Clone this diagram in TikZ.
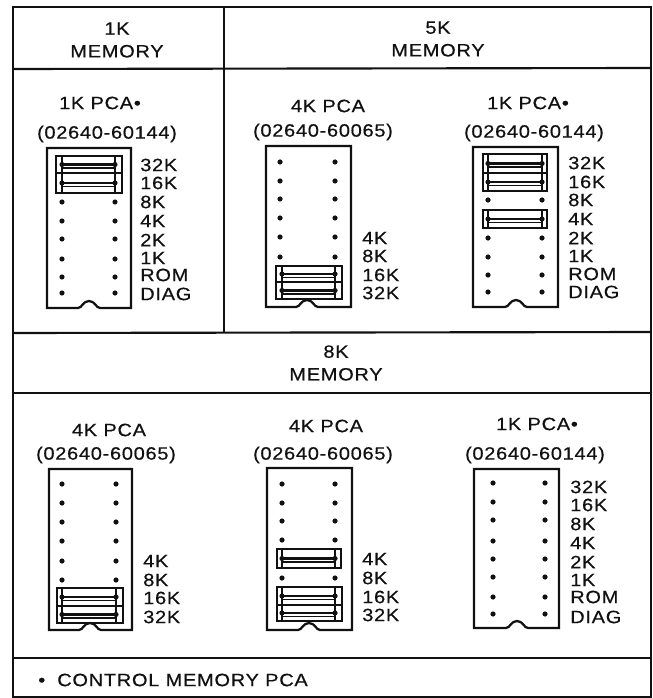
\documentclass[tikz,border=0pt]{standalone}
\usepackage{fontspec}
\usepackage{xcolor}
\setmainfont[FakeStretch=1.12,LetterSpace=4,FakeBold=0.5]{Liberation Sans}
\definecolor{ink}{HTML}{111111}
\usetikzlibrary{positioning}

% board outline, args: left, right, top, bottom, notch centre
\newcommand{\pcaboard}[5]{%
  \draw[board] (#1,#3) -- (#2,#3) -- (#2,#4) -- ({#5+11},#4)
    .. controls ({#5+7},#4) and ({#5+6},{#4-7}) .. (#5,{#4-7})
    .. controls ({#5-6},{#4-7}) and ({#5-7},#4) .. ({#5-11},#4) -- (#1,#4) -- cycle;}
% jumper cell, args: left, right, top, bottom, dot left, dot right
\newcommand{\jumpcell}[6]{%
  \draw[jumpbox] (#1,#3) rectangle (#2,#4);
  \draw[jumpbox] (#5,#3) -- (#5,#4) (#6,#3) -- (#6,#4);
  \draw[jumpbar] (#5,{(#3+#4)/2}) -- (#6,{(#3+#4)/2});
  \fill[pin] (#5,{(#3+#4)/2}) circle (2.6) (#6,{(#3+#4)/2}) circle (2.6);
  \draw[jumpbox] (#5,{(#3+#4)/2+3.5}) -- (#6,{(#3+#4)/2+3.5});}

\begin{document}
\begin{tikzpicture}[
  x=0.75pt, y=-0.75pt,
  frame/.style={draw=ink, line width=1.6pt},
  board/.style={draw=ink, line width=1.7pt},
  jumpbox/.style={draw=ink, line width=0.8pt},
  jumpbar/.style={draw=ink, line width=1.8pt},
  pin/.style={fill=ink, draw=none},
  head/.style={font=\fontsize{13.4}{14}\selectfont, text=ink, inner sep=0pt, align=center},
  tag/.style={font=\fontsize{13.4}{14}\selectfont, text=ink, inner sep=0pt, anchor=west},
]
\useasboundingbox (0,0) rectangle (652,698);
% table rules
\draw[frame] (13,7) rectangle (651,697);
\draw[frame] (13,69) -- (651,68);
\draw[frame] (224,7) -- (224,333);
\draw[frame] (13,333) -- (651,332);
\draw[frame] (13,393) -- (651,393);
\draw[frame] (13,658) -- (651,658);
% headings
\node[head] (memone) at (117,40) {1K\\[3pt]MEMORY};
\node[head] (memfive) at (438,39) {5K\\[3pt]MEMORY};
\node[head] (memeight) at (336,363) {8K\\[3pt]MEMORY};
\node[head, anchor=west] (note) at (38,680) {•\hspace{9pt}CONTROL MEMORY PCA};
% board titles
\node[head] (pcaa) at (100,103) {1K PCA•};
\node[head] (numa) at (107,134) {(02640-60144)};
\node[head] (pcab) at (328,106) {4K PCA};
\node[head] (numb) at (323,132) {(02640-60065)};
\node[head] (pcac) at (528,103) {1K PCA•};
\node[head] (numc) at (534,133) {(02640-60144)};
\node[head] (pcad) at (109,430) {4K PCA};
\node[head] (numd) at (106,455) {(02640-60065)};
\node[head] (pcae) at (326,426) {4K PCA};
\node[head] (nume) at (323,455) {(02640-60065)};
\node[head] (pcaf) at (537,424) {1K PCA•};
\node[head] (numf) at (535,455) {(02640-60144)};
% 1K board
\pcaboard{47}{131}{148}{308}{89}
\jumpcell{56}{122}{156}{173}{62}{115}
\jumpcell{56}{122}{173}{193}{62}{115}
\foreach \y in {202,221,239,259,277,293}
  \fill[pin] (62,\y) circle (2.6) (115,\y) circle (2.6);
\foreach \y/\t in {165/32K,183/16K,202/8K,221/4K,240/2K,258/1K,275/ROM,294/DIAG}
  \node[tag] at (140,\y) {\t};
% 5K left board
\pcaboard{266}{351}{146}{307}{307}
\jumpcell{276}{342}{266}{282}{282}{335}
\jumpcell{276}{342}{282}{299}{282}{335}
\foreach \y in {162,181,199,218,237,257}
  \fill[pin] (280,\y) circle (2.6) (335,\y) circle (2.6);
\foreach \y/\t in {238/4K,256/8K,275/16K,293/32K}
  \node[tag] at (362,\y) {\t};
% 5K right board
\pcaboard{473}{558}{147}{307}{516}
\jumpcell{483}{547}{154}{173}{488}{542}
\jumpcell{483}{547}{173}{191}{488}{542}
\jumpcell{483}{547}{210}{228}{488}{542}
\foreach \y in {200,238,257,275,292}
  \fill[pin] (488,\y) circle (2.6) (542,\y) circle (2.6);
\foreach \y/\t in {163/32K,182/16K,200/8K,219/4K,238/2K,256/1K,274/ROM,292/DIAG}
  \node[tag] at (568,\y) {\t};
% 8K left board
\pcaboard{49}{132}{469}{630}{90}
\jumpcell{57}{123}{588}{606}{62}{116}
\jumpcell{57}{123}{606}{623}{62}{116}
\foreach \y in {484,503,522,541,561,580}
  \fill[pin] (62,\y) circle (2.6) (116,\y) circle (2.6);
\foreach \y/\t in {561/4K,580/8K,598/16K,617/32K}
  \node[tag] at (143,\y) {\t};
% 8K middle board
\pcaboard{267}{352}{468}{630}{309}
\jumpcell{277}{341}{549}{568}{282}{335}
\jumpcell{277}{342}{587}{605}{282}{335}
\jumpcell{277}{342}{605}{621}{282}{335}
\foreach \y in {484,503,521,540,578}
  \fill[pin] (282,\y) circle (2.6) (335,\y) circle (2.6);
\foreach \y/\t in {559/4K,578/8K,597/16K,615/32K}
  \node[tag] at (362,\y) {\t};
% 8K right board
\pcaboard{474}{559}{469}{628}{517}
\foreach \y in {483,502,520,541,559,577,597,614}
  \fill[pin] (493,\y) circle (2.6) (545,\y) circle (2.6);
\foreach \y/\t in {487/32K,505/16K,524/8K,543/4K,562/2K,580/1K,597/ROM,617/DIAG}
  \node[tag] at (570,\y) {\t};
\end{tikzpicture}
\end{document}
